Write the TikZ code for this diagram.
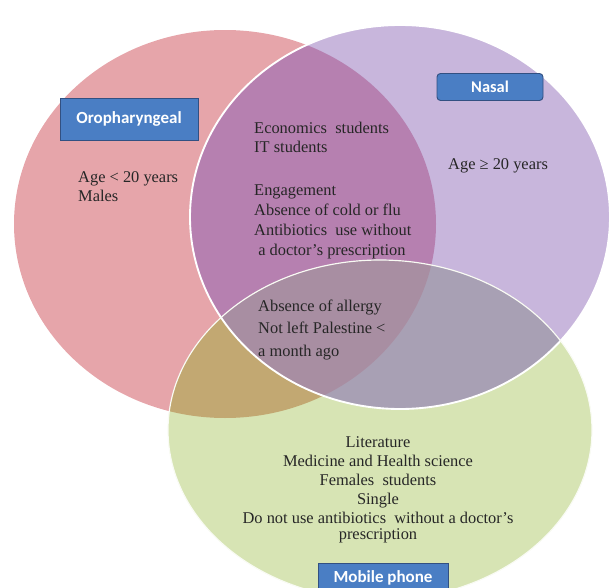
\documentclass[tikz,border=0pt]{standalone}
\usepackage{fontspec}
\setmainfont{Liberation Serif}
\newfontfamily\tagfont{Carlito}
\usetikzlibrary{positioning}

\definecolor{oroRed}{RGB}{230,165,170}
\definecolor{nasPurple}{RGB}{200,182,220}
\definecolor{mobGreen}{RGB}{215,228,180}
\definecolor{oroNas}{RGB}{182,128,176}
\definecolor{oroMob}{RGB}{194,168,114}
\definecolor{nasMob}{RGB}{168,160,180}
\definecolor{allThree}{RGB}{168,142,162}
\definecolor{tagBlue}{RGB}{74,126,196}
\definecolor{tagEdge}{RGB}{50,80,130}

% the three sets (pixel units)
\def\pathOro{(225,224) ellipse [x radius=211, y radius=194]}
\def\pathNas{(400,217) ellipse [x radius=210, y radius=192]}
\def\pathMob{(380,430) ellipse [x radius=212, y radius=170]}

\begin{document}
\begin{tikzpicture}[x=0.03cm,y=-0.03cm,
  tagbox/.style={fill=tagBlue,draw=tagEdge,line width=0.8pt,text=white,
    font=\tagfont\bfseries\fontsize{14.5}{16}\selectfont,inner sep=0pt},
  settext/.style={font=\fontsize{14}{16.2}\selectfont,inner sep=0pt,text=black!85}]

  \useasboundingbox (0,0) rectangle (611,588);
  \clip (0,0) rectangle (611,588);

  % plain fills
  \fill[oroRed] \pathOro;
  \fill[nasPurple] \pathNas;
  \fill[mobGreen] \pathMob;

  % pairwise overlaps
  \begin{scope}
    \clip \pathOro;
    \fill[oroNas] \pathNas;
    \fill[oroMob] \pathMob;
  \end{scope}
  \begin{scope}
    \clip \pathNas;
    \fill[nasMob] \pathMob;
  \end{scope}
  % all three
  \begin{scope}
    \clip \pathOro; \clip \pathNas;
    \fill[allThree] \pathMob;
  \end{scope}

  % white rims
  \draw[white,line width=1.6pt] \pathNas;
  \draw[white!85!mobGreen,line width=1pt] \pathMob;

  % set labels
  \node[tagbox,minimum width=4.14cm,minimum height=1.26cm] (oro) at (129,119) {Oropharyngeal};
  \node[tagbox,rounded corners=3pt,minimum width=3.18cm,minimum height=0.81cm,
    font=\tagfont\bfseries\fontsize{14}{16}\selectfont] (nas) at (490,87) {Nasal};
  \node[tagbox,minimum width=3.9cm,minimum height=0.9cm] (mob) at (383,578) {Mobile phone};

  % only oropharyngeal (anchored on the last line)
  \node[settext,anchor=base west,align=left] (oroOnly) at (78,201) {Age < 20 years\\Males};
  % only nasal
  \node[settext,anchor=base west] (nasOnly) at (448,169) {Age ≥ 20 years};
  % oropharyngeal and nasal
  \node[settext,anchor=base west,align=left] (oroNasA) at (254,152) {Economics \ students\\IT students};
  \node[settext,anchor=base west,align=left,font=\fontsize{14}{16.8}\selectfont] (oroNasB) at (254,255)
    {Engagement\\Absence of cold or flu\\Antibiotics \ use without\\\ a doctor's prescription};
  % all three
  \node[settext,anchor=base west,align=left,font=\fontsize{14}{18.8}\selectfont] (common) at (258,356)
    {Absence of allergy\\Not left Palestine <\\a month ago};
  % only mobile phone
  \node[settext,anchor=base,align=center] (mobOnly) at (378,539)
    {Literature\\Medicine and Health science\\Females \ students\\Single\\
     Do not use antibiotics \ without a doctor's\\[-3.2pt]prescription};

\end{tikzpicture}
\end{document}
